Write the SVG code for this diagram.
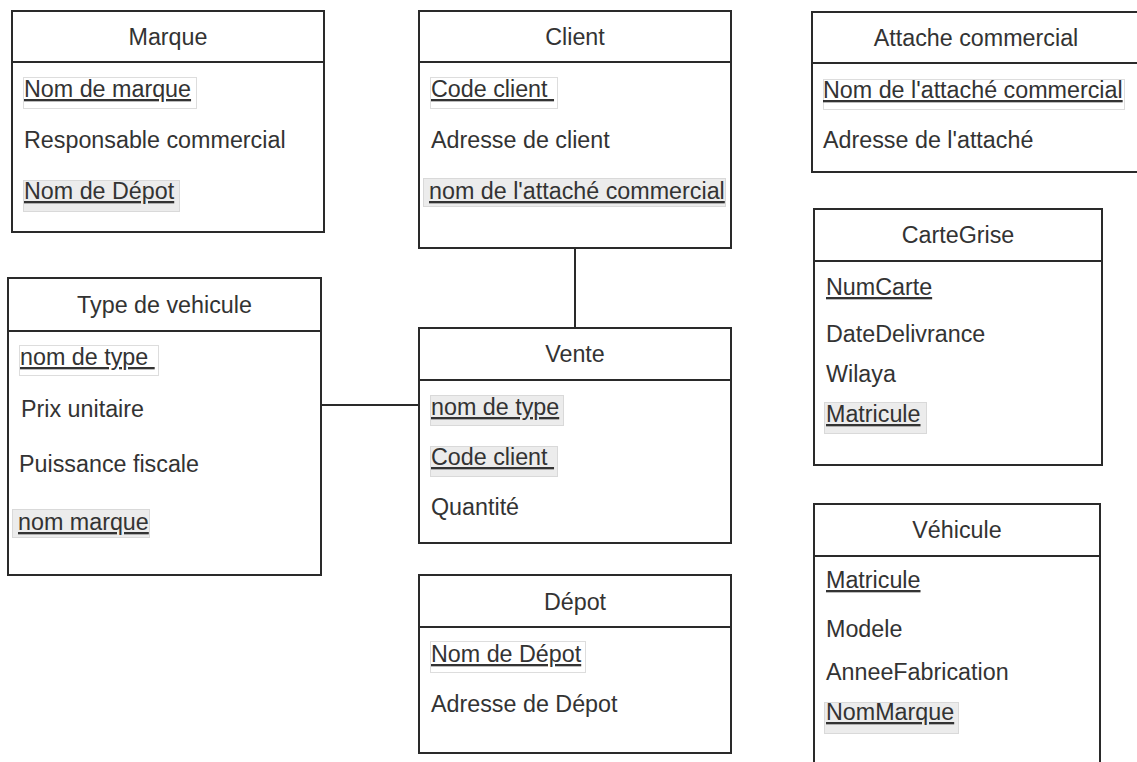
<svg xmlns="http://www.w3.org/2000/svg" width="1137" height="762" viewBox="0 0 1137 762">
  <style>
    .box { fill: #ffffff; stroke: #2a2a2a; stroke-width: 2; }
    .sep { stroke: #2a2a2a; stroke-width: 2; }
    .link { stroke: #2a2a2a; stroke-width: 2; fill: none; }
    text { font-family: "Liberation Sans", Arial, sans-serif; font-size: 23.3px; fill: #333333; white-space: pre; }
    .title { text-anchor: middle; }
    .key { text-decoration: underline; text-decoration-thickness: 2px; text-underline-offset: 3px; }
    .hl { fill: #ececec; stroke: #d9d9d9; stroke-width: 1; }
    .hlw { fill: #ffffff; stroke: #dddddd; stroke-width: 1; }
  </style>

  <!-- connectors -->
  <g id="connectors">
    <line class="link" x1="575" y1="248" x2="575" y2="328"/>
    <line class="link" x1="321" y1="405" x2="419" y2="405"/>
  </g>

  <!-- Marque -->
  <g id="marque">
    <rect class="box" x="12" y="11" width="312" height="221"/>
    <line class="sep" x1="12" y1="62" x2="324" y2="62"/>
    <text class="title" x="168" y="45">Marque</text>
    <rect class="hlw" x="23.5" y="77.5" width="173" height="31"/>
    <text class="key" x="24" y="97">Nom de marque</text>
    <text x="24" y="148">Responsable commercial</text>
    <rect class="hl" x="23.5" y="180.5" width="156" height="31"/>
    <text class="key" x="24" y="199">Nom de Dépot</text>
  </g>

  <!-- Client -->
  <g id="client">
    <rect class="box" x="419" y="11" width="312" height="237"/>
    <line class="sep" x1="419" y1="62" x2="731" y2="62"/>
    <text class="title" x="575" y="45">Client</text>
    <rect class="hlw" x="430.5" y="77.5" width="127" height="31"/>
    <text class="key" x="431" y="97">Code client </text>
    <text x="431" y="148">Adresse de client</text>
    <rect class="hl" x="423.5" y="178.5" width="302" height="28"/>
    <text class="key" x="429" y="199">nom de l'attaché commercial</text>
  </g>

  <!-- Attache commercial -->
  <g id="attache-commercial">
    <rect class="box" x="812" y="12" width="330" height="160"/>
    <line class="sep" x1="812" y1="63" x2="1142" y2="63"/>
    <text class="title" x="976" y="46">Attache commercial</text>
    <rect class="hlw" x="823.5" y="79.5" width="301" height="30"/>
    <text class="key" x="823" y="98">Nom de l'attaché commercial</text>
    <text x="823" y="148">Adresse de l'attaché</text>
  </g>

  <!-- Type de vehicule -->
  <g id="type-vehicule">
    <rect class="box" x="8" y="278" width="313" height="297"/>
    <line class="sep" x1="8" y1="331" x2="321" y2="331"/>
    <text class="title" x="164.5" y="313">Type de vehicule</text>
    <rect class="hlw" x="19.5" y="345.5" width="139" height="30"/>
    <text class="key" x="20" y="365">nom de type </text>
    <text x="21" y="417">Prix unitaire</text>
    <text x="19" y="472">Puissance fiscale</text>
    <rect class="hl" x="12.5" y="509.5" width="137" height="28"/>
    <text class="key" x="18" y="530">nom marque</text>
  </g>

  <!-- Vente -->
  <g id="vente">
    <rect class="box" x="419" y="328" width="312" height="215"/>
    <line class="sep" x1="419" y1="380" x2="731" y2="380"/>
    <text class="title" x="575" y="362">Vente</text>
    <rect class="hl" x="430.5" y="395.5" width="133" height="30"/>
    <text class="key" x="431" y="415">nom de type</text>
    <rect class="hl" x="430.5" y="446.5" width="127" height="30"/>
    <text class="key" x="431" y="465">Code client </text>
    <text x="431" y="515">Quantité</text>
  </g>

  <!-- CarteGrise -->
  <g id="carte-grise">
    <rect class="box" x="814" y="209" width="288" height="256"/>
    <line class="sep" x1="814" y1="261" x2="1102" y2="261"/>
    <text class="title" x="958" y="243">CarteGrise</text>
    <text class="key" x="826" y="295">NumCarte</text>
    <text x="826" y="342">DateDelivrance</text>
    <text x="826" y="382">Wilaya</text>
    <rect class="hl" x="824.5" y="402.5" width="102" height="31"/>
    <text class="key" x="826" y="422">Matricule</text>
  </g>

  <!-- Dépot -->
  <g id="depot">
    <rect class="box" x="419" y="575" width="312" height="178"/>
    <line class="sep" x1="419" y1="627" x2="731" y2="627"/>
    <text class="title" x="575" y="610">Dépot</text>
    <rect class="hlw" x="430.5" y="641.5" width="155" height="31"/>
    <text class="key" x="431" y="662">Nom de Dépot</text>
    <text x="431" y="712">Adresse de Dépot</text>
  </g>

  <!-- Véhicule -->
  <g id="vehicule">
    <rect class="box" x="814" y="504" width="286" height="280"/>
    <line class="sep" x1="814" y1="556" x2="1100" y2="556"/>
    <text class="title" x="957" y="538">Véhicule</text>
    <text class="key" x="826" y="588">Matricule</text>
    <text x="826" y="637">Modele</text>
    <text x="826" y="680">AnneeFabrication</text>
    <rect class="hl" x="824.5" y="702.5" width="134" height="31"/>
    <text class="key" x="826" y="720">NomMarque</text>
  </g>
</svg>
